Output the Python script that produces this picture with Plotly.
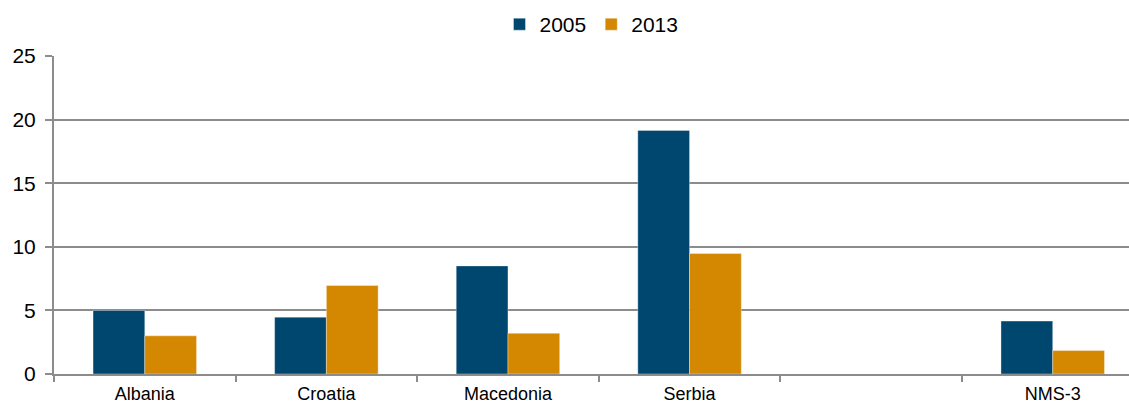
import plotly.graph_objects as go

categories = ["Albania", "Croatia", "Macedonia", "Serbia", " ", "NMS-3"]
values_2005 = [5.0, 4.47, 8.5, 19.15, None, 4.16]
values_2013 = [3.0, 6.96, 3.2, 9.47, None, 1.84]
series_names = ["2005", "2013"]
colors = ["#00476F", "#D48700"]
y_ticks = [0, 5, 10, 15, 20, 25]

fig = go.Figure()
for name, vals, col in zip(series_names, [values_2005, values_2013], colors):
    fig.add_trace(go.Bar(
        x=categories, y=vals, name=name,
        marker=dict(color=col, line=dict(width=0.6, color="rgba(255,255,255,0.6)")),
    ))

grid = "#8C8C8C"
fig.update_layout(
    width=1129, height=403,
    margin=dict(l=54, r=0, t=56, b=29, autoexpand=False),
    paper_bgcolor="white", plot_bgcolor="white",
    barmode="group", bargap=0.43, bargroupgap=0,
    font=dict(family="Liberation Sans, Arial, sans-serif", size=18, color="#000000"),
    showlegend=True,
    legend=dict(orientation="h", x=0.5, xanchor="center", y=0.99, yref="container",
                yanchor="top", font=dict(size=21), traceorder="normal",
                itemwidth=30, bgcolor="rgba(0,0,0,0)"),
    xaxis=dict(
        type="category", categoryorder="array", categoryarray=categories,
        range=[-0.5, 5.42], showgrid=False, automargin=False,
        showline=True, linecolor=grid, linewidth=2,
        ticks="outside", tickson="boundaries", ticklen=6, tickcolor=grid, tickwidth=2,
        tickfont=dict(size=18), fixedrange=True, ticklabelstandoff=2,
    ),
    yaxis=dict(
        range=[0, 25], tickvals=y_ticks, ticktext=[str(v) for v in y_ticks],
        showgrid=True, gridcolor=grid, gridwidth=2, automargin=False,
        showline=True, linecolor=grid, linewidth=2,
        ticks="outside", ticklen=7, tickcolor=grid, tickwidth=2,
        tickfont=dict(size=21), zeroline=False, fixedrange=True,
        ticklabelstandoff=5,
    ),
)

fig.write_html(
    "out.html",
    config={"displayModeBar": False},
    post_script="document.body.style.margin='0';document.body.style.overflow='hidden';",
)
